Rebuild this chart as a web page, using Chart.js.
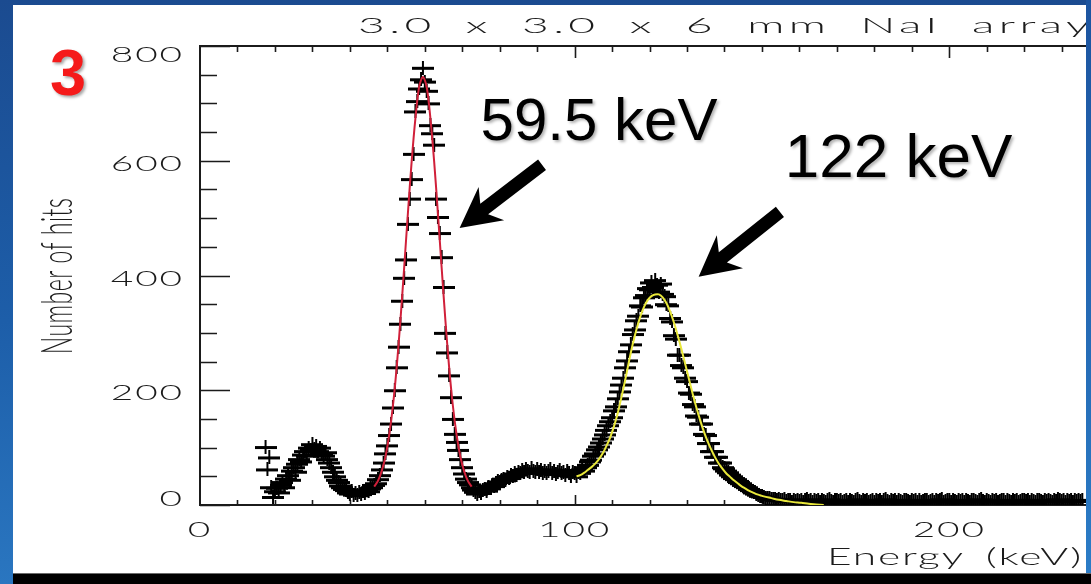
<!DOCTYPE html>
<html lang="en">
<head>
    <meta charset="UTF-8"/>
    <title>NaI array spectrum</title>
    <script src="https://cdn.jsdelivr.net/npm/chart.js@4.4.0/dist/chart.umd.min.js"></script>
    <style>
        html, body { margin: 0; width: 1091px; height: 584px; overflow: hidden; }
        body { position: relative; background: linear-gradient(180deg, #1b4b90 0%, #1d5ea9 55%, #2a76c0 100%); }
        #sheet { position: absolute; left: 13px; top: 5px; width: 1073px; height: 568px; background: #fff; }
        #spectrum { position: absolute; left: 0; top: 0; }
        #edge { position: absolute; left: 1086px; top: 0; width: 5px; height: 573px; background: linear-gradient(180deg, #1c54a0, #2b7cc6); }
        #foot { position: absolute; left: 13px; top: 573px; width: 1078px; height: 11px; background: #000; border-top: 1px solid #6b6b6b; box-sizing: border-box; }
    </style>
</head>
<body>
<div id="sheet"></div>
<canvas id="spectrum" width="1091" height="584"></canvas>
<div id="edge"></div>
<div id="foot"></div>

<script>
    // channels: 0.5 keV wide, first one at 17.5 keV
    const binStart = 17.5;
    const binWidth = 0.5;
    const counts = [
        101, 62, 83, 31, 14,                                  // 17.5
        24, 30, 22, 35, 40, 31, 46, 52, 44, 60,               // 20
        66, 58, 72, 80, 76, 88, 94, 86, 100, 96,              // 25
        106, 98, 103, 94, 100, 90, 86, 92, 80, 74,            // 30
        66, 58, 50, 44, 40, 34, 31, 28, 26, 22,               // 35
        20, 24, 18, 21, 17, 22, 19, 24, 21, 26,               // 40
        24, 29, 31, 35, 38, 45, 52, 62, 74, 90,               // 45
        104, 122, 142, 170, 200, 240, 276, 316, 356, 396,     // 50
        428, 490, 534, 568, 612, 686, 704, 726, 742, 762,     // 55
        738, 722, 700, 662, 648, 628, 534, 502, 474, 432,     // 60
        380, 300, 266, 226, 188, 150, 124, 110, 96, 80,       // 65
        66, 55, 46, 40, 36, 31, 27, 23, 20, 24,               // 70
        21, 26, 28, 25, 31, 29, 34, 33, 38, 41,               // 75
        40, 44, 46, 43, 49, 47, 52, 50, 55, 53,               // 80
        58, 56, 61, 58, 63, 60, 58, 64, 60, 57,               // 85
        62, 58, 61, 56, 59, 55, 60, 62, 56, 59,               // 90
        54, 58, 61, 55, 57, 52, 59, 56, 51, 57,               // 95
        55, 50, 58, 56, 62, 60, 66, 70, 76, 79,               // 100
        86, 90, 97, 102, 109, 116, 123, 131, 139, 146,        // 105
        153, 165, 172, 186, 198, 210, 222, 240, 252, 268,     // 110
        280, 298, 306, 322, 330, 348, 346, 362, 366, 378,     // 115
        376, 388, 380, 392, 384, 372, 386, 368, 364, 350,     // 120
        348, 326, 320, 296, 290, 262, 262, 244, 240, 222,     // 125
        216, 196, 194, 176, 172, 156, 154, 142, 142, 124,     // 130
        122, 108, 108, 94, 94, 84, 84, 74, 74, 66,            // 135
        64, 60, 57, 53, 50, 47, 45, 42, 40, 38,               // 140
        35, 33, 31, 28, 26, 24, 22, 20, 18, 16,               // 145
        15, 14, 13, 12, 12, 11, 10, 11, 9, 10,                // 150
        9, 8, 10, 7, 9, 8, 6, 9, 7, 8,                        // 155
        7, 9, 6, 8, 10, 7, 8, 6, 9, 7,                        // 160
        8, 6, 9, 7, 5, 8, 10, 7, 6, 8,                        // 165
        9, 7, 8, 6, 7, 9, 5, 8, 7, 6,                         // 170
        8, 10, 7, 6, 9, 7, 8, 5, 7, 9,                        // 175
        6, 8, 7, 9, 6, 8, 10, 7, 6, 8,                        // 180
        7, 9, 5, 8, 7, 6, 9, 8, 7, 6,                         // 185
        8, 7, 9, 6, 8, 5, 7, 9, 8, 6,                         // 190
        7, 8, 6, 9, 7, 8, 10, 6, 7, 8,                        // 195
        9, 6, 8, 7, 5, 8, 7, 9, 6, 8,                         // 200
        7, 6, 9, 8, 7, 6, 8, 10, 7, 6,                        // 205
        8, 7, 6, 9, 7, 8, 6, 7, 9, 8,                         // 210
        6, 8, 7, 5, 9, 7, 8, 6, 7, 9,                         // 215
        8, 7, 9, 6, 8, 7, 5, 8, 9, 7,                         // 220
        6, 8, 7, 9, 7, 6, 8, 7, 10, 8,                        // 225
        7, 9, 6, 8, 7, 8, 6, 9, 7, 8,                         // 230
        7, 8                                                  // 235
    ];

    // gaussian fit of the 59.5 keV line
    const fit1Energy = [46.5, 47.5, 48.5, 49.5, 50.5, 51.5, 52.5, 53.5, 54.5, 55.5, 56.5, 57.5, 58.5, 59.5,
        60.5, 61.5, 62.5, 63.5, 64.5, 65.5, 66.5, 67.5, 68.5, 69.5, 70.5, 71.5, 72.5];
    const fit1Counts = [32, 42, 59, 84, 122, 173, 240, 322, 414, 509, 599, 674, 729, 746,
        729, 674, 599, 509, 414, 322, 240, 173, 122, 84, 59, 42, 32];

    // fit of the 122 keV line
    const fit2Energy = [100.5, 101.5, 102.5, 103.5, 104.5, 105.5, 106.5, 107.5, 108.5, 109.5,
        110.5, 111.5, 112.5, 113.5, 114.5, 115.5, 116.5, 117.5, 118.5, 119.5,
        120.5, 121.5, 122.5, 123.5, 124.5, 125.5, 126.5, 127.5, 128.5, 129.5,
        130.5, 131.5, 132.5, 133.5, 134.5, 135.5, 136.5, 137.5, 138.5, 139.5,
        140.5, 141.5, 142.5, 143.5, 144.5, 145.5, 146.5, 147.5, 148.5, 149.5,
        150.5, 152.5, 154.5, 156.5, 158.5, 160.5, 162.5, 164.5, 166.5];
    const fit2Counts = [50, 52, 56, 61, 66, 72, 80, 90, 103, 118,
        137, 160, 188, 218, 250, 280, 306, 328, 345, 357,
        364, 367, 367, 362, 352, 337, 318, 296, 272, 246,
        220, 194, 170, 148, 128, 111, 96, 83, 72, 63,
        55, 49, 43, 38, 33, 29, 25, 22, 19, 17,
        15, 12, 9, 7, 5, 4, 2, 1, 0];

    const xTicks = [0, 100, 200];
    const yTicks = [0, 200, 400, 600, 800];
    const xMinorStep = 10;
    const yMinorStep = 50;
    const xMax = 235.7;
    const yMax = 800;

    const titleText = '3.0 x 3.0 x 6 mm NaI array';
    const xTitle = 'Energy (keV)';
    const yTitle = 'Number of hits';
</script>

<script>
    const ink = '#1b1b1b';
    const stretch = 1.85;     // the plot lettering is drawn wide
    const plotFont = '"Lato", "DejaVu Sans", sans-serif';

    // "+" marker, wider than tall
    function plusMark(w, h) {
        const c = document.createElement('canvas');
        c.width = w;
        c.height = h;
        const g = c.getContext('2d');
        g.fillStyle = '#000';
        g.fillRect(0, Math.floor(h / 2) - 1, w, 3);
        g.fillRect(Math.floor(w / 2) - 1, 0, 2, h);
        return c;
    }

    function wideText(ctx, text, x, y, size, align, ls, ws, sx) {
        ctx.save();
        ctx.translate(x, y);
        ctx.scale(sx || stretch, 1);
        ctx.font = `300 ${size}px ${plotFont}`;
        ctx.letterSpacing = (ls || 0) + 'px';
        ctx.wordSpacing = (ws || 0) + 'px';
        ctx.fillStyle = ink;
        ctx.textAlign = align;
        ctx.textBaseline = 'alphabetic';
        ctx.fillText(text, 0, 0);
        ctx.restore();
    }

    // box, inward ticks, tick labels and titles
    const axisFrame = {
        id: 'axisFrame',
        beforeDatasetsDraw(chart) {
            const {ctx, chartArea: a, scales: {x, y}} = chart;
            ctx.save();
            ctx.strokeStyle = ink;
            ctx.lineWidth = 2;
            ctx.beginPath();
            ctx.moveTo(a.right + 5, a.top);
            ctx.lineTo(a.left, a.top);
            ctx.lineTo(a.left, a.bottom);
            ctx.lineTo(a.right + 5, a.bottom);
            ctx.stroke();

            ctx.lineWidth = 1.6;
            ctx.beginPath();
            for (let v = 0; v <= yMax; v += yMinorStep) {
                const py = Math.round(y.getPixelForValue(v)) + 0.5;
                ctx.moveTo(a.left, py);
                ctx.lineTo(a.left + (yTicks.includes(v) ? 30 : 17), py);
            }
            for (let e = xMinorStep; e < x.max; e += xMinorStep) {
                const px = Math.round(x.getPixelForValue(e)) + 0.5;
                const major = xTicks.includes(e);
                ctx.moveTo(px, a.bottom);
                ctx.lineTo(px, a.bottom - (major ? 10 : 5));
                ctx.moveTo(px, a.top);
                ctx.lineTo(px, a.top + (major ? 12 : 6));
            }
            ctx.stroke();

            yTicks.forEach(v => {
                const base = Math.min(Math.max(y.getPixelForValue(v) + 10, a.top + 16), a.bottom + 1);
                wideText(ctx, String(v), a.left - 16, base, 21, 'right', 1);
            });
            xTicks.forEach(e => {
                wideText(ctx, String(e), x.getPixelForValue(e), a.bottom + 32, 21, 'center', 1);
            });

            wideText(ctx, titleText, 358, 33, 21, 'left', 2, 6, 2.2);
            wideText(ctx, xTitle, 1083, 565, 23, 'right', 1, 4);

            // rotated axis title
            ctx.save();
            ctx.translate(72, 276);
            ctx.scale(stretch, 1);
            ctx.rotate(-Math.PI / 2);
            ctx.font = `300 23px ${plotFont}`;
            ctx.letterSpacing = '0.5px';
            ctx.fillStyle = ink;
            ctx.textAlign = 'center';
            ctx.textBaseline = 'alphabetic';
            ctx.fillText(yTitle, 0, 0);
            ctx.restore();

            ctx.restore();
        }
    };

    // peak callouts, anchored in keV / counts
    const callouts = [
        {text: '59.5 keV', size: 60, at: [74.9, 636], tail: [91.3, 593], tip: [69.3, 483]},
        {text: '122 keV', size: 62, at: [156.1, 572], tail: [154.8, 511], tip: [133.1, 398]}
    ];

    function arrow(ctx, x0, y0, x1, y1) {
        const len = Math.hypot(x1 - x0, y1 - y0);
        ctx.save();
        ctx.translate(x1, y1);
        ctx.rotate(Math.atan2(y1 - y0, x1 - x0));
        ctx.beginPath();
        ctx.moveTo(0, 0);
        ctx.lineTo(-40, -21);
        ctx.lineTo(-31, -6.5);
        ctx.lineTo(-len, -6.5);
        ctx.lineTo(-len, 6.5);
        ctx.lineTo(-31, 6.5);
        ctx.lineTo(-40, 21);
        ctx.closePath();
        ctx.fill();
        ctx.restore();
    }

    const peakNotes = {
        id: 'peakNotes',
        afterDraw(chart) {
            const {ctx, scales: {x, y}} = chart;
            ctx.save();

            // slide number
            ctx.font = 'bold 65px "Liberation Sans", Arial, sans-serif';
            ctx.fillStyle = '#f51a1a';
            ctx.shadowColor = 'rgba(0,0,0,0.35)';
            ctx.shadowOffsetX = 2;
            ctx.shadowOffsetY = 2;
            ctx.shadowBlur = 3;
            ctx.fillText('3', 50, 95);

            callouts.forEach(c => {
                ctx.fillStyle = '#000';
                ctx.shadowColor = 'rgba(0,0,0,0.3)';
                ctx.font = `${c.size}px "Liberation Sans", Arial, sans-serif`;
                ctx.fillText(c.text, x.getPixelForValue(c.at[0]), y.getPixelForValue(c.at[1]));
                ctx.shadowColor = 'transparent';
                arrow(ctx, x.getPixelForValue(c.tail[0]), y.getPixelForValue(c.tail[1]),
                    x.getPixelForValue(c.tip[0]), y.getPixelForValue(c.tip[1]));
            });
            ctx.restore();
        }
    };

    const hits = counts.map((n, i) => ({x: binStart + i * binWidth, y: n}));
    const fit1 = fit1Energy.map((e, i) => ({x: e, y: fit1Counts[i]}));
    const fit2 = fit2Energy.map((e, i) => ({x: e, y: fit2Counts[i]}));

    new Chart(document.getElementById('spectrum'), {
        type: 'scatter',
        data: {
            datasets: [
                {
                    label: '59.5 keV fit',
                    data: fit1,
                    showLine: true,
                    borderColor: '#d1203a',
                    borderWidth: 2,
                    pointRadius: 0,
                    tension: 0.3
                },
                {
                    label: '122 keV fit',
                    data: fit2,
                    showLine: true,
                    borderColor: '#e9e83a',
                    borderWidth: 2,
                    pointRadius: 0,
                    tension: 0.3
                },
                {
                    label: 'hits',
                    data: hits,
                    pointStyle: plusMark(22, 14),
                    pointRadius: 7,
                    clip: {left: false, top: false, right: false, bottom: 0}
                }
            ]
        },
        options: {
            responsive: false,
            animation: false,
            events: [],
            layout: {padding: {left: 200, right: 0, top: 46, bottom: 79}},
            plugins: {
                legend: {display: false},
                tooltip: {enabled: false}
            },
            scales: {
                x: {type: 'linear', display: false, min: 0, max: xMax},
                y: {display: false, min: 0, max: yMax}
            }
        },
        plugins: [axisFrame, peakNotes]
    });
</script>
</body>
</html>
